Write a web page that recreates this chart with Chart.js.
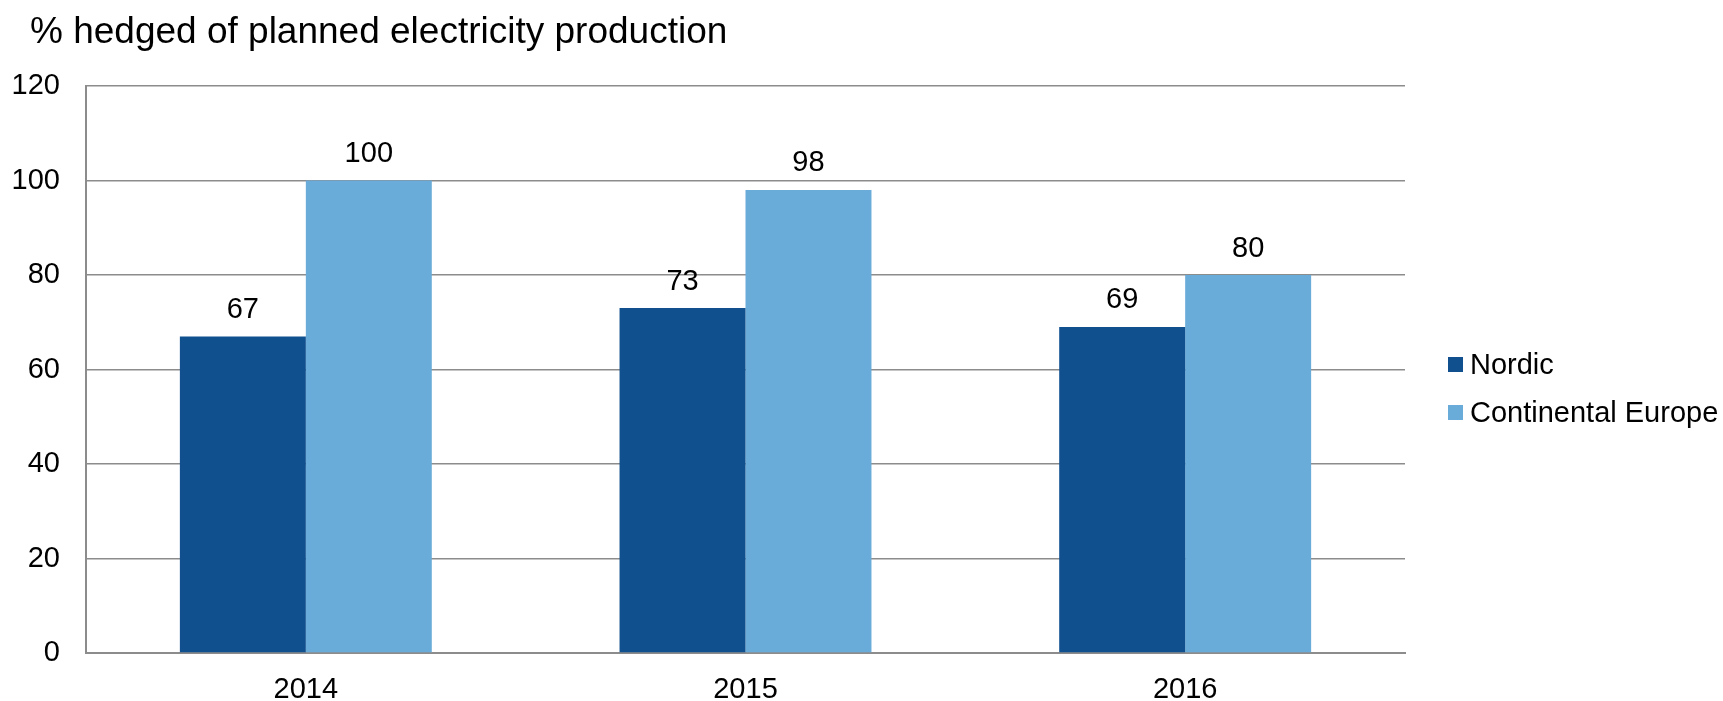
<!DOCTYPE html>
<html>
<head>
<meta charset="utf-8">
<title>Hedging ratio</title>
<script src="https://cdn.jsdelivr.net/npm/chart.js@4"></script>
<style>
    body { margin: 0; background: #fff; }
    #wrap { position: relative; width: 1723px; height: 701px; }
    #legend { position: absolute; left: 1448px; top: 340px; font: 29px "Liberation Sans", Arial, sans-serif; color: #000; }
    .item { display: flex; align-items: center; height: 48px; white-space: nowrap; }
    .swatch { width: 15px; height: 15px; margin-right: 7px; }
</style>
</head>
<body>
<div id="wrap">
    <canvas id="hedgeChart" width="1723" height="701"></canvas>
    <div id="legend"></div>
</div>
<script>
// --- DATA ---
const years = ['2014', '2015', '2016'];
const nordic = [67, 73, 69];
const continentalEurope = [100, 98, 80];
const yTicks = [0, 20, 40, 60, 80, 100, 120];
const chartTitle = '% hedged of planned electricity production';

const FONT = '"Liberation Sans", Arial, sans-serif';
const GRID = '#8c8c8c';

// Heading text in the top-left corner
const titlePlugin = {
    id: 'cornerTitle',
    afterDraw(chart) {
        const ctx = chart.ctx;
        ctx.save();
        ctx.font = '37px ' + FONT;
        ctx.fillStyle = '#000';
        ctx.textAlign = 'left';
        ctx.textBaseline = 'alphabetic';
        ctx.fillText(chartTitle, 30, 43);
        ctx.restore();
    }
};

// Value printed above each bar
const valueLabels = {
    id: 'valueLabels',
    afterDatasetsDraw(chart) {
        const ctx = chart.ctx;
        ctx.save();
        ctx.font = '29px ' + FONT;
        ctx.fillStyle = '#000';
        ctx.textAlign = 'center';
        ctx.textBaseline = 'alphabetic';
        chart.data.datasets.forEach((ds, i) => {
            chart.getDatasetMeta(i).data.forEach((bar, j) => {
                ctx.fillText(String(ds.data[j]), bar.x, bar.y - 18.5);
            });
        });
        ctx.restore();
    }
};

const chart = new Chart(document.getElementById('hedgeChart'), {
    type: 'bar',
    data: {
        labels: years,
        datasets: [
            { label: 'Nordic', data: nordic, backgroundColor: '#11508f' },
            { label: 'Continental Europe', data: continentalEurope, backgroundColor: '#6aacd9' }
        ]
    },
    options: {
        responsive: false,
        animation: false,
        layout: { padding: { left: 0, top: 86, right: 318, bottom: 0 } },
        datasets: { bar: { categoryPercentage: 0.573, barPercentage: 1.0 } },
        plugins: {
            legend: { display: false },
            tooltip: { enabled: false }
        },
        scales: {
            x: {
                grid: { display: false, drawTicks: false },
                border: { display: true, color: GRID, width: 2 },
                ticks: { font: { family: FONT, size: 29 }, color: '#000', padding: 20 },
                afterFit(scale) { scale.height = 48; }
            },
            y: {
                min: 0,
                max: 120,
                afterBuildTicks(scale) { scale.ticks = yTicks.map(v => ({ value: v })); },
                grid: { color: GRID, lineWidth: 1.6, drawTicks: false },
                border: { display: true, color: GRID, width: 2 },
                ticks: { font: { family: FONT, size: 29 }, color: '#000', padding: 26 },
                afterFit(scale) { scale.width = 86; }
            }
        }
    },
    plugins: [titlePlugin, valueLabels]
});

// Legend on the right, built from the datasets
const legendEl = document.getElementById('legend');
chart.data.datasets.forEach(ds => {
    const row = document.createElement('div');
    row.className = 'item';
    const sw = document.createElement('span');
    sw.className = 'swatch';
    sw.style.background = ds.backgroundColor;
    const txt = document.createElement('span');
    txt.textContent = ds.label;
    row.appendChild(sw);
    row.appendChild(txt);
    legendEl.appendChild(row);
});
</script>
</body>
</html>
